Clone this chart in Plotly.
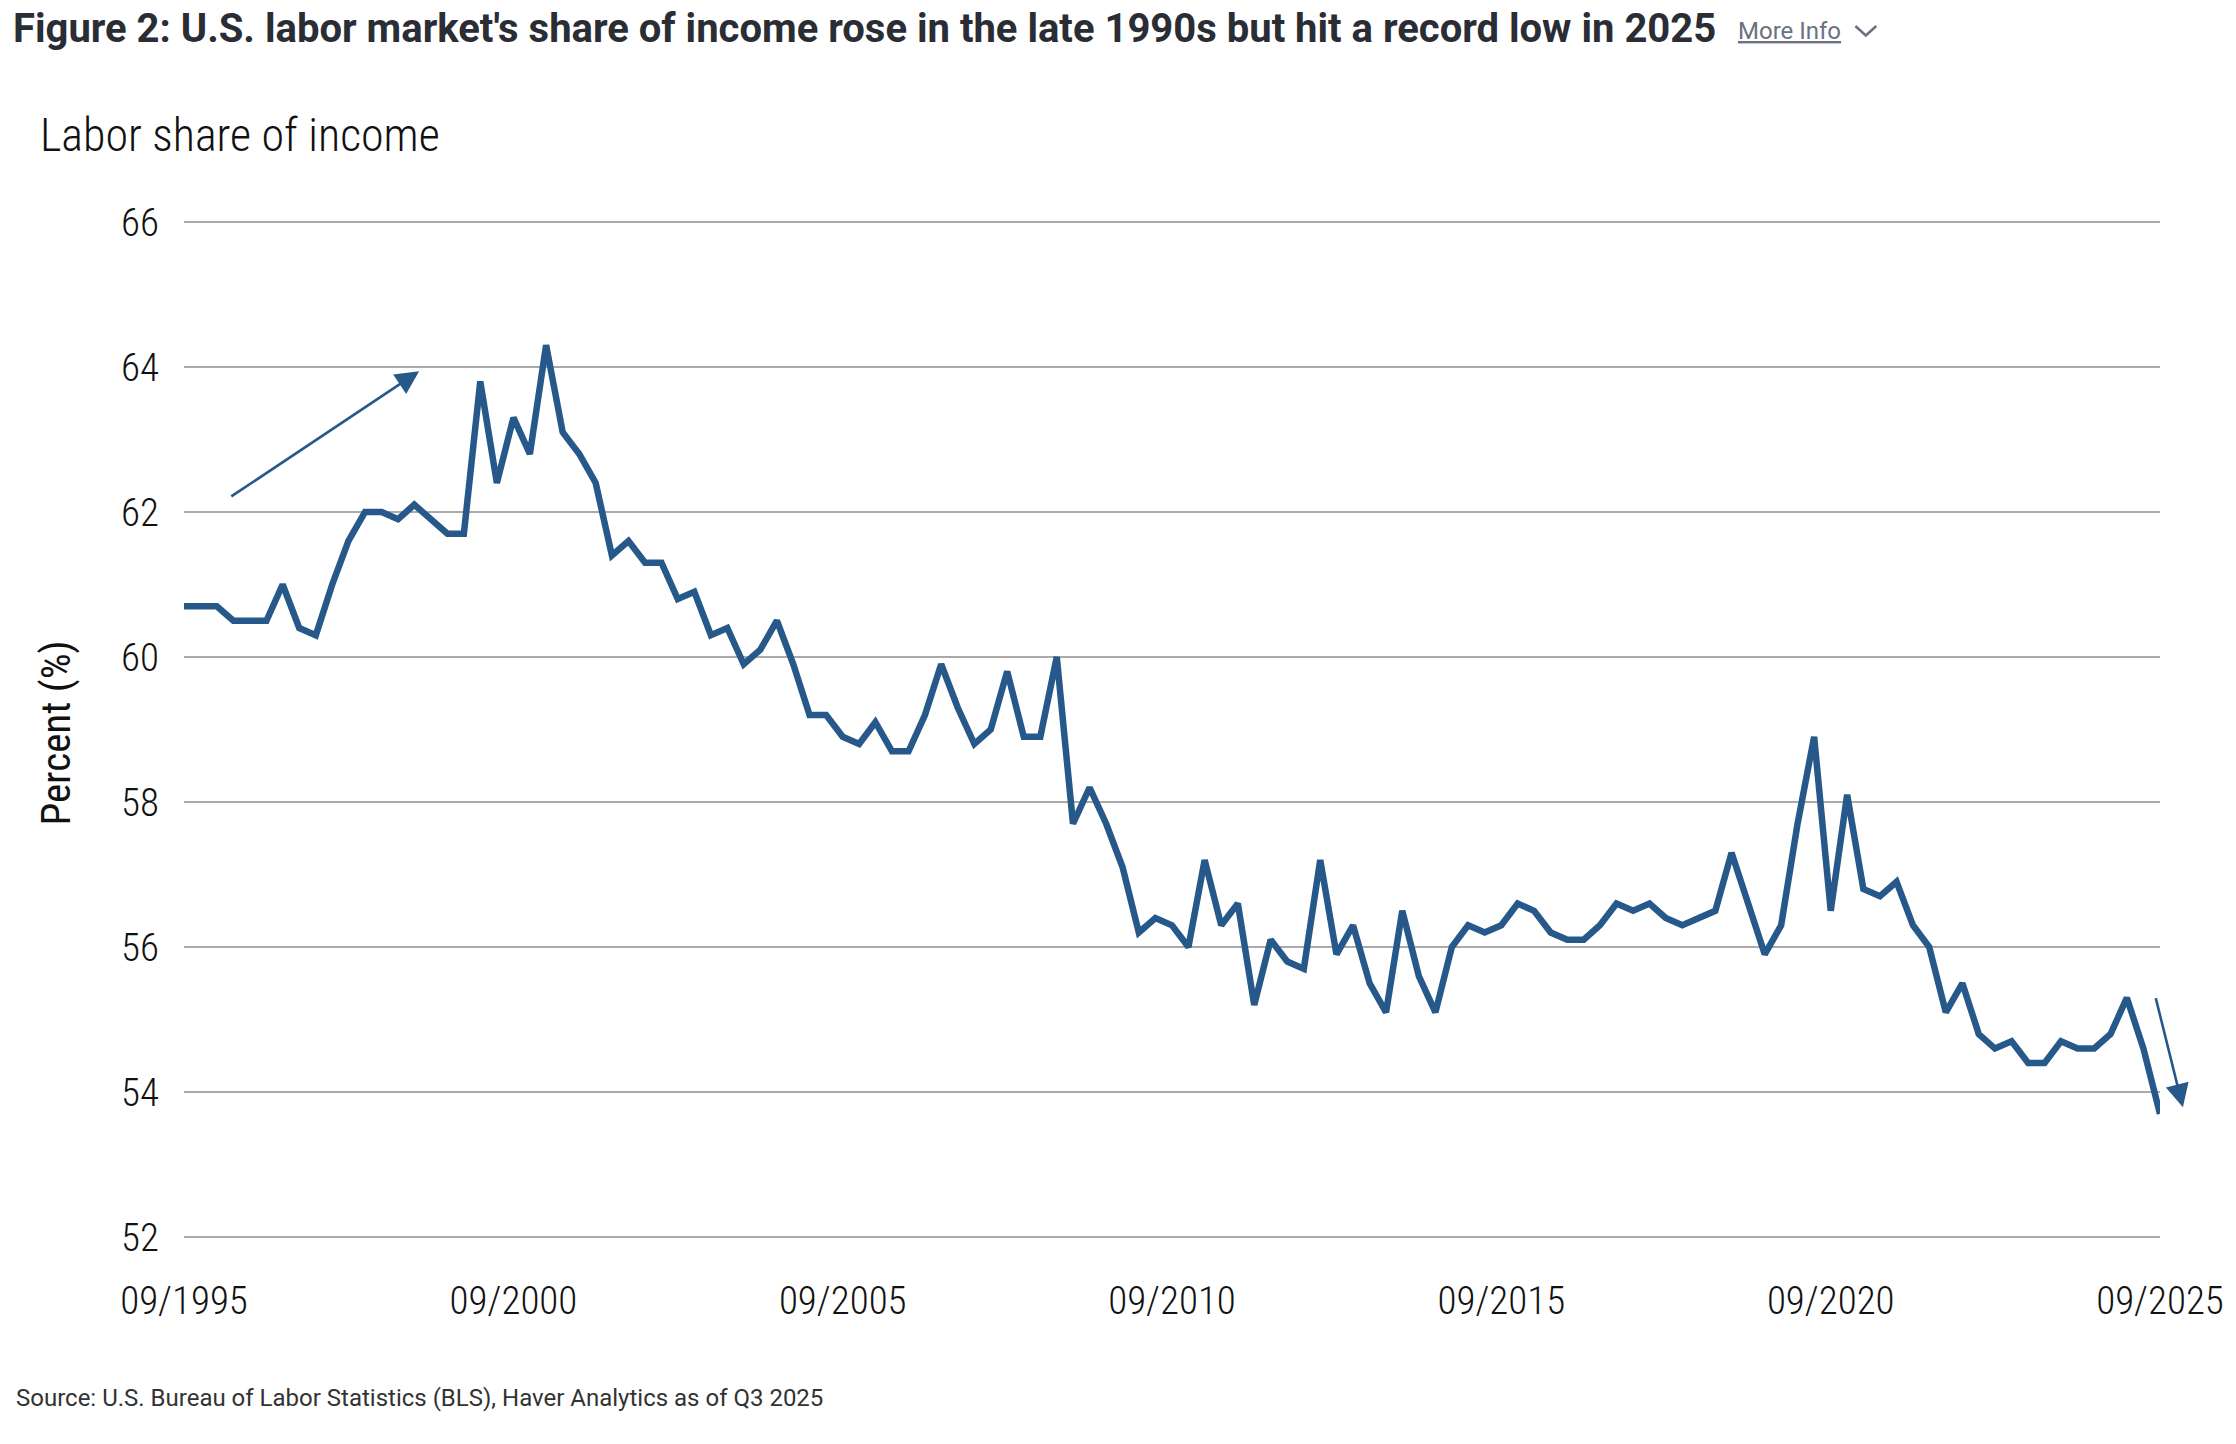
import pandas as pd
import plotly.graph_objects as go

# ---------------- data ----------------
labor_share = [
    60.7, 60.7, 60.7, 60.5, 60.5, 60.5, 61.0, 60.4, 60.3, 61.0,
    61.6, 62.0, 62.0, 61.9, 62.1, 61.9, 61.7, 61.7, 63.8, 62.4,
    63.3, 62.8, 64.3, 63.1, 62.8, 62.4, 61.4, 61.6, 61.3, 61.3,
    60.8, 60.9, 60.3, 60.4, 59.9, 60.1, 60.5, 59.9, 59.2, 59.2,
    58.9, 58.8, 59.1, 58.7, 58.7, 59.2, 59.9, 59.3, 58.8, 59.0,
    59.8, 58.9, 58.9, 60.0, 57.7, 58.2, 57.7, 57.1, 56.2, 56.4,
    56.3, 56.0, 57.2, 56.3, 56.6, 55.2, 56.1, 55.8, 55.7, 57.2,
    55.9, 56.3, 55.5, 55.1, 56.5, 55.6, 55.1, 56.0, 56.3, 56.2,
    56.3, 56.6, 56.5, 56.2, 56.1, 56.1, 56.3, 56.6, 56.5, 56.6,
    56.4, 56.3, 56.4, 56.5, 57.3, 56.6, 55.9, 56.3, 57.7, 58.9,
    56.5, 58.1, 56.8, 56.7, 56.9, 56.3, 56.0, 55.1, 55.5, 54.8,
    54.6, 54.7, 54.4, 54.4, 54.7, 54.6, 54.6, 54.8, 55.3, 54.6,
    53.7,
]
quarters = pd.date_range(start="1995-09-01", periods=len(labor_share), freq="3MS")

tick_dates = ["1995-09-01", "2000-09-01", "2005-09-01", "2010-09-01",
              "2015-09-01", "2020-09-01", "2025-09-01"]
tick_labels = ["09/1995", "09/2000", "09/2005", "09/2010",
               "09/2015", "09/2020", "09/2025"]
y_ticks = [52, 54, 56, 58, 60, 62, 64, 66]

# ---------------- styling ----------------
W, H = 2236, 1444
L, R = 184, 2169          # plot area left/right in px
T, B = 219, 1240          # plot area top/bottom in px
LINE = "#26598a"
COND = "Roboto Condensed, Liberation Sans Narrow, sans-serif"


def px_x(px):
    return (px - L) / (R - L)


def px_y(py):
    return (B - py) / (B - T)


fig = go.Figure()
fig.add_trace(go.Scatter(
    x=quarters, y=labor_share, mode="lines",
    line=dict(color=LINE, width=6.5),
    hoverinfo="x+y", showlegend=False,
))

annotations = [
    dict(text="Labor share of income", xref="paper", yref="paper",
         x=px_x(37), y=px_y(135), xanchor="left", yanchor="middle",
         showarrow=False, font=dict(family=COND, size=46, color="#111111", weight=300)),
    dict(text="Percent (%)", xref="paper", yref="paper",
         x=px_x(55), y=px_y(733), xanchor="center", yanchor="middle",
         textangle=-90, showarrow=False,
         font=dict(family=COND, size=41, color="#111111", weight=400)),
    dict(text="<u>More Info</u>", xref="paper", yref="paper",
         x=px_x(1743), y=px_y(31), xanchor="left", yanchor="middle",
         showarrow=False, font=dict(family="Roboto", size=24, color="#6b7180")),
    dict(text="Source: U.S. Bureau of Labor Statistics (BLS), Haver Analytics as of Q3 2025",
         xref="paper", yref="paper", x=px_x(13), y=px_y(1398),
         xanchor="left", yanchor="middle", showarrow=False,
         font=dict(family="Roboto", size=24, color="#333333")),
    dict(text="", x="1999-03-28", y=63.94, xref="x", yref="y",
         ax="1996-05-12", ay=62.2, axref="x", ayref="y",
         showarrow=True, arrowhead=2, arrowsize=1.8, arrowwidth=2.6,
         arrowcolor=LINE, standoff=0, startstandoff=0),
    dict(text="", x=px_x(2192), y=53.79, xref="paper", yref="y",
         ax=-27.5, ay=-110.7, axref="pixel", ayref="pixel",
         showarrow=True, arrowhead=2, arrowsize=1.8, arrowwidth=2.6,
         arrowcolor=LINE, standoff=0, startstandoff=0),
]

shapes = [
    dict(type="line", xref="paper", yref="y", x0=0, x1=1, y0=52, y1=52,
         line=dict(color="#777777", width=1.6), layer="below"),
    dict(type="path", xref="paper", yref="paper",
         path=f"M {px_x(1863)},{px_y(26)} L {px_x(1873.5)},{px_y(35.5)} L {px_x(1884)},{px_y(26)}",
         line=dict(color="#6b7180", width=2.6)),
]

fig.update_layout(
    width=W, height=H,
    margin=dict(l=L, r=W - R, t=T, b=H - B, pad=0),
    paper_bgcolor="white", plot_bgcolor="white",
    title=dict(
        text="Figure 2: U.S. labor market's share of income rose in the late 1990s but hit a record low in 2025",
        xref="container", yref="container", x=13 / W, y=1 - 28 / H,
        xanchor="left", yanchor="middle",
        font=dict(family="Roboto", size=40, color="#2a2d34", weight="bold"),
    ),
    annotations=annotations,
    shapes=shapes,
    xaxis=dict(
        type="date", range=["1995-09-01", "2025-09-01"],
        tickmode="array", tickvals=tick_dates, ticktext=tick_labels,
        showgrid=False, zeroline=False, showline=False, ticks="",
        tickfont=dict(family=COND, size=39, color="#111111", weight=300),
        ticklabelstandoff=34, ticklabeloverflow="allow",
    ),
    yaxis=dict(
        range=[51.96, 66.04], tickmode="array", tickvals=y_ticks,
        showgrid=True, gridcolor="#aaaaaa", gridwidth=1.5,
        zeroline=False, showline=False, ticks="",
        tickfont=dict(family=COND, size=39, color="#111111", weight=300),
        ticklabelstandoff=24,
    ),
    showlegend=False,
)

fig.write_html(
    "out.html",
    config={"displayModeBar": False},
    post_script="document.body.style.margin='0';document.body.style.padding='0';",
)
